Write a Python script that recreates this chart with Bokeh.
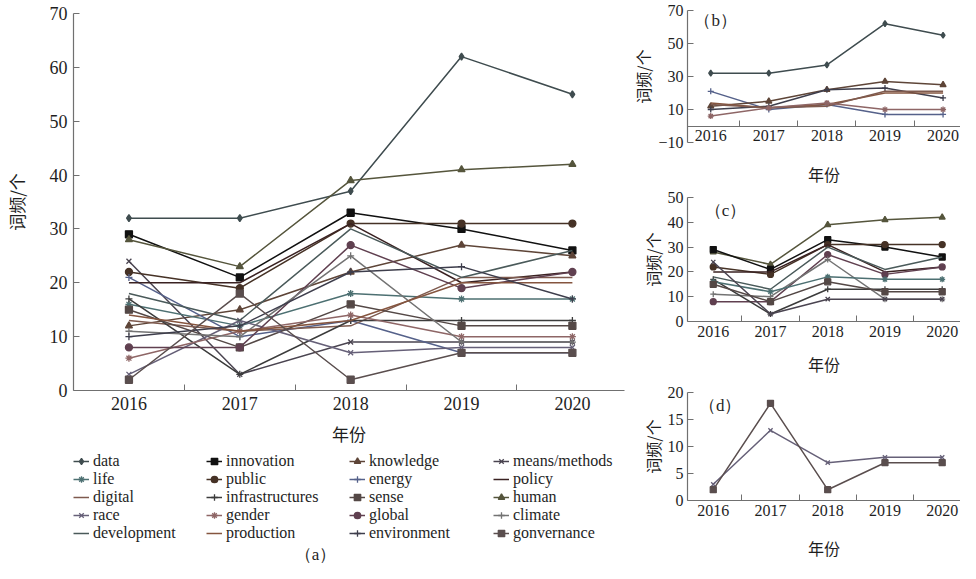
from bokeh.plotting import figure
from bokeh.layouts import row, column
from bokeh.models import FixedTicker, Legend, LegendItem, Label, Range1d, LinearAxis
from bokeh.embed import file_html
from bokeh.resources import INLINE

# ---------------- data ----------------
years = [2016, 2017, 2018, 2019, 2020]

series_names = ["data", "innovation", "knowledge", "means/methods",
                "life", "public", "energy", "policy",
                "digital", "infrastructures", "sense", "human",
                "race", "gender", "global", "climate",
                "development", "production", "environment", "gonvernance"]

data = [32, 32, 37, 62, 55]
innovation = [29, 21, 33, 30, 26]
knowledge = [12, 15, 22, 27, 25]
means_methods = [24, 3, 9, 9, 9]
life = [16, 12, 18, 17, 17]
public = [22, 19, 31, 31, 31]
energy = [21, 10, 13, 7, 7]
policy = [20, 20, 31, 20, 22]
digital = [13, 11, 12, 21, 21]
infrastructures = [17, 3, 13, 13, 13]
sense = [15, 8, 16, 12, 12]
human = [28, 23, 39, 41, 42]
race = [3, 13, 7, 8, 8]
gender = [6, 11, 14, 10, 10]
global_ = [8, 8, 27, 19, 22]
climate = [11, 10, 25, 9, 9]
development = [18, 13, 30, 21, 26]
production = [14, 11, 13, 20, 20]
environment = [10, 12, 22, 23, 17]
gonvernance = [2, 18, 2, 7, 7]

panel_b = ["data", "energy", "knowledge", "environment", "production", "digital", "gender"]
panel_c = ["human", "innovation", "public", "policy", "development", "global",
           "climate", "infrastructures", "life", "means/methods", "sense"]
panel_d = ["race", "gonvernance"]

values = {
    "data": data, "innovation": innovation, "knowledge": knowledge,
    "means/methods": means_methods, "life": life, "public": public,
    "energy": energy, "policy": policy, "digital": digital,
    "infrastructures": infrastructures, "sense": sense, "human": human,
    "race": race, "gender": gender, "global": global_, "climate": climate,
    "development": development, "production": production,
    "environment": environment, "gonvernance": gonvernance,
}

# ---------------- styles ----------------
markers = {
    "data": "diamond", "innovation": "square", "knowledge": "triangle",
    "means/methods": "x", "life": "asterisk", "public": "circle",
    "energy": "cross", "policy": None, "digital": None,
    "infrastructures": "cross", "sense": "square", "human": "triangle",
    "race": "x", "gender": "asterisk", "global": "circle", "climate": "cross",
    "development": None, "production": None, "environment": "cross",
    "gonvernance": "square",
}
colors = {
    "data": "#3f4c4f", "innovation": "#111111", "knowledge": "#5e4538",
    "means/methods": "#4a4450", "life": "#4d7072", "public": "#463226",
    "energy": "#55618a", "policy": "#3a2222", "digital": "#7e5a4e",
    "infrastructures": "#3c3c3c", "sense": "#544846", "human": "#55553c",
    "race": "#666078", "gender": "#8e6666", "global": "#604050",
    "climate": "#737373", "development": "#4a5a5a", "production": "#85553f",
    "environment": "#3e3e4c", "gonvernance": "#5a4e4e",
}

SERIF = "Liberation Serif"
CJK = "Noto Sans CJK SC"
TXT = "#1e1e1e"
AX = "#707070"


def make_fig(w, h, xr, yr, yticks, bl, br, bt, bb, tick_size, lab_size,
             tick_standoff, xlab_standoff, ylab_standoff):
    p = figure(width=w, height=h, x_range=Range1d(*xr), y_range=Range1d(*yr),
               output_backend="svg", toolbar_location=None,
               min_border_left=bl, min_border_right=br,
               min_border_top=bt, min_border_bottom=bb)
    p.outline_line_color = None
    p.xgrid.visible = False
    p.ygrid.visible = False
    p.xaxis.ticker = FixedTicker(ticks=years,
                                 minor_ticks=[y + 0.5 for y in years[:-1]])
    p.yaxis.ticker = FixedTicker(ticks=yticks, minor_ticks=[])
    for ax in (p.xaxis, p.yaxis):
        ax.axis_line_color = AX
        ax.axis_line_width = 1.2
        ax.major_tick_line_color = AX
        ax.minor_tick_line_color = AX
        ax.major_label_text_font = SERIF
        ax.major_label_text_font_size = tick_size
        ax.major_label_text_color = TXT
        ax.axis_label_text_font = CJK
        ax.axis_label_text_font_size = lab_size
        ax.axis_label_text_font_style = "normal"
        ax.axis_label_text_color = TXT
        ax.major_label_standoff = tick_standoff
    p.xaxis.major_tick_in = 0
    p.xaxis.major_tick_out = 0
    p.xaxis.minor_tick_in = 6
    p.xaxis.minor_tick_out = 0
    p.yaxis.major_tick_in = 6
    p.yaxis.major_tick_out = 0
    p.yaxis.minor_tick_in = 0
    p.yaxis.minor_tick_out = 0
    p.xaxis.axis_label = "年份"
    p.yaxis.axis_label = "词频/个"
    p.xaxis.axis_label_standoff = xlab_standoff
    p.yaxis.axis_label_standoff = ylab_standoff
    return p


def draw(p, name, size, lw):
    rs = [p.line(years, values[name], line_color=colors[name], line_width=lw)]
    m = markers[name]
    if m:
        rs.append(p.scatter(years, values[name], marker=m, size=size,
                            line_color=colors[name], fill_color=colors[name],
                            line_width=1.3))
    return rs


# ---------------- panel (a) ----------------
pa = make_fig(628, 449, (2015.5, 2020.47), (0, 70), list(range(0, 71, 10)),
              64, 4, 13, 59, "18px", "17px", 6, 8, 18)
for nm in series_names:
    draw(pa, nm, 7, 1.5)

# legend strip under panel (a): its own figure (frame aligned with panel (a)),
# whose frame is in pixel units so the series (x = 2016..2020) fall outside it
LEG_W, LEG_H = 628, 114
FRAME_W = 560
pl = figure(width=LEG_W, height=LEG_H, x_range=Range1d(0, FRAME_W),
            y_range=Range1d(0, LEG_H), output_backend="svg",
            toolbar_location=None, x_axis_location=None, y_axis_location=None,
            min_border_left=64, min_border_right=4, min_border_top=0,
            min_border_bottom=0)
pl.outline_line_color = None
pl.grid.visible = False
proxies = {nm: draw(pl, nm, 7, 1.5) for nm in series_names}
col_x = [0, 133, 276, 420]
for c in range(4):
    col_items = [LegendItem(label=series_names[r * 4 + c],
                            renderers=proxies[series_names[r * 4 + c]])
                 for r in range(5)]
    lg = Legend(items=col_items, orientation="vertical",
                location=(col_x[c], 21),
                label_text_font=SERIF, label_text_font_size="16px",
                label_text_color=TXT,
                glyph_width=16, glyph_height=18, label_height=18,
                label_standoff=4, spacing=0,
                padding=0, margin=0, border_line_color=None,
                background_fill_alpha=0)
    pl.add_layout(lg, "center")
pl.add_layout(Label(x=246, y=9, text="（a）", text_align="center",
                    text_baseline="middle", text_font=SERIF,
                    text_font_size="17px", text_color=TXT))

# ---------------- panel (b) ----------------
pb = make_fig(332, 188, (2015.6, 2020.3), (-10, 70), [-10, 10, 30, 50, 70],
              54, 0, 10, 41, "16px", "16px", 4, 13, 0)
pb.xaxis.fixed_location = 0
pb.xaxis.axis_label = None
# a bare axis below the frame only to carry the x-axis title
title_axis = LinearAxis(ticker=FixedTicker(ticks=[]), axis_line_color=None,
                        major_tick_line_color=None, minor_tick_line_color=None,
                        major_label_standoff=0, axis_label="年份",
                        axis_label_text_font=CJK, axis_label_text_font_size="16px",
                        axis_label_text_font_style="normal",
                        axis_label_text_color=TXT, axis_label_standoff=19)
pb.add_layout(title_axis, "below")
for nm in panel_b:
    draw(pb, nm, 6, 1.5)
pb.add_layout(Label(x=2015.72, y=70, text="（b）", text_baseline="top",
                    text_font=SERIF, text_font_size="17px", text_color=TXT))

# ---------------- panel (c) ----------------
pc = make_fig(332, 193, (2015.55, 2020.32), (0, 50), list(range(0, 51, 10)),
              45, 0, 9, 60, "16px", "16px", 4, 12, 0)
for nm in panel_c:
    draw(pc, nm, 6, 1.5)
pc.add_layout(Label(x=2015.85, y=48.5, text="（c）", text_baseline="top",
                    text_font=SERIF, text_font_size="17px", text_color=TXT))

# ---------------- panel (d) ----------------
pd_ = make_fig(332, 182, (2015.55, 2020.32), (0, 20), [0, 5, 10, 15, 20],
               46, 0, 11, 63, "16px", "16px", 4, 17, 0)
for nm in panel_d:
    draw(pd_, nm, 6, 1.5)
pd_.add_layout(Label(x=2015.75, y=19.3, text="（d）", text_baseline="top",
                     text_font=SERIF, text_font_size="17px", text_color=TXT))

layout = row(column(pa, pl), column(pb, pc, pd_))

open("out.html", "w").write(file_html(layout, INLINE))
